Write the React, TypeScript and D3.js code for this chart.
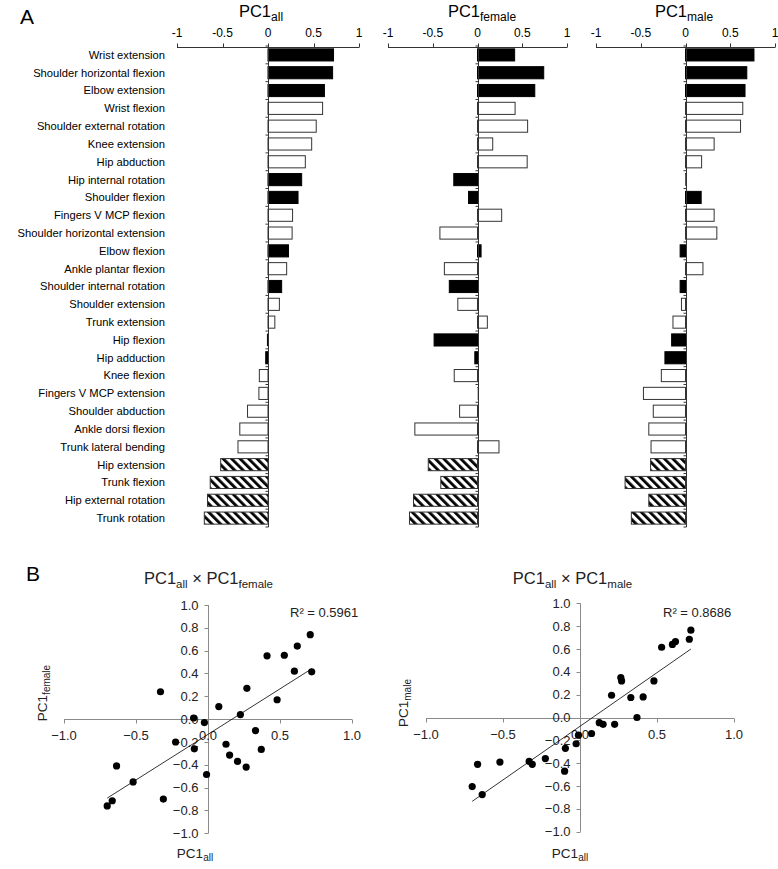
import React from 'react';
import * as d3 from 'd3';

const categories = [
  'Wrist extension', 'Shoulder horizontal flexion', 'Elbow extension', 'Wrist flexion',
  'Shoulder external rotation', 'Knee extension', 'Hip abduction', 'Hip internal rotation',
  'Shoulder flexion', 'Fingers V MCP flexion', 'Shoulder horizontal extension', 'Elbow flexion',
  'Ankle plantar flexion', 'Shoulder internal rotation', 'Shoulder extension', 'Trunk extension',
  'Hip flexion', 'Hip adduction', 'Knee flexion', 'Fingers V MCP extension', 'Shoulder abduction',
  'Ankle dorsi flexion', 'Trunk lateral bending', 'Hip extension', 'Trunk flexion',
  'Hip external rotation', 'Trunk rotation',
];

const fillType = [
  'black', 'black', 'black', 'white', 'white', 'white', 'white', 'black', 'black', 'white',
  'white', 'black', 'white', 'black', 'white', 'white', 'black', 'black', 'white', 'white',
  'white', 'white', 'white', 'hatch', 'hatch', 'hatch', 'hatch',
];

const pcAll = [
  0.72, 0.71, 0.62, 0.60, 0.53, 0.48, 0.41, 0.37, 0.33, 0.27, 0.265, 0.225, 0.205, 0.15,
  0.125, 0.075, -0.01, -0.025, -0.095, -0.10, -0.225, -0.31, -0.33, -0.52, -0.635, -0.665, -0.70,
];

const pcFemale = [
  0.415, 0.74, 0.64, 0.42, 0.56, 0.17, 0.555, -0.265, -0.10, 0.27, -0.42, 0.04, -0.37, -0.315,
  -0.22, 0.11, -0.485, -0.03, -0.26, 0.01, -0.20, -0.70, 0.24, -0.55, -0.41, -0.715, -0.76,
];

const pcMale = [
  0.765, 0.685, 0.665, 0.64, 0.615, 0.32, 0.18, 0.0, 0.175, 0.32, 0.35, -0.06, 0.195, -0.06,
  -0.045, -0.14, -0.155, -0.23, -0.27, -0.47, -0.36, -0.41, -0.385, -0.39, -0.675, -0.41, -0.605,
];

const barTicks = [-1, -0.5, 0, 0.5, 1];
const barTickLabels = ['-1', '-0.5', '0', '0.5', '1'];
const scatterXTicks = [-1, -0.5, 0, 0.5, 1];
const scatterYTicks = [1, 0.8, 0.6, 0.4, 0.2, 0, -0.2, -0.4, -0.6, -0.8, -1];

const FONT = "'Liberation Sans', Arial, Helvetica, sans-serif";

function BarPanel({ values, x0, x1, title, sub, titleX, showLabels }) {
  const xs = d3.scaleLinear().domain([-1, 1]).range([x0, x1]);
  const ys = d3.scaleBand().domain(categories).range([46, 527]).paddingInner(0.32).paddingOuter(0.16);
  const axisY = 47.5;
  const zx = Math.round(xs(0)) + 0.5;
  const step = ys.step();
  const bStart = 46;
  return (
    <g>
      <text x={titleX} y={17} textAnchor="middle" fontSize={16.5} fill="#000">
        <tspan>PC1</tspan>
        <tspan fontSize={12} dy={4}>{sub}</tspan>
      </text>
      <line x1={xs(-1)} x2={xs(1)} y1={axisY} y2={axisY} stroke="#333" strokeWidth={1} />
      {barTicks.map((t, i) => (
        <g key={i}>
          <line x1={Math.round(xs(t)) + 0.5} x2={Math.round(xs(t)) + 0.5} y1={axisY} y2={axisY - 4} stroke="#333" />
          <text x={xs(t)} y={37} textAnchor="middle" fontSize={12} fill="#000">{barTickLabels[i]}</text>
        </g>
      ))}
      {showLabels && categories.map((c, i) => (
        <text key={c} x={165} y={ys(c) + ys.bandwidth() / 2} dy="0.35em" textAnchor="end" fontSize={11.2} fill="#000">{c}</text>
      ))}
      {categories.map((c, i) => {
        const v = values[i];
        const xa = Math.min(xs(0), xs(v));
        const w = Math.abs(xs(v) - xs(0));
        const t = fillType[i];
        const fill = t === 'black' ? '#000' : t === 'white' ? '#fff' : 'url(#hatch)';
        const stroke = t === 'black' ? '#000' : '#333';
        return (
          <rect key={c} x={xa} y={ys(c)} width={Math.max(w, 0.8)} height={ys.bandwidth()} fill={fill} stroke={stroke} strokeWidth={w < 1 ? 0.3 : 1} />
        );
      })}
      <line x1={zx} x2={zx} y1={axisY} y2={527} stroke="#333" strokeWidth={1} />
      {d3.range(categories.length + 1).map((i) => (
        <line key={i} x1={zx - 3} x2={zx} y1={bStart + i * step} y2={bStart + i * step} stroke="#333" strokeWidth={1} />
      ))}
    </g>
  );
}

function fitLine(xv, yv) {
  const mx = d3.mean(xv), my = d3.mean(yv);
  let sxy = 0, sxx = 0;
  xv.forEach((x, i) => { sxy += (x - mx) * (yv[i] - my); sxx += (x - mx) * (x - mx); });
  const b = sxy / sxx;
  const a = my - b * mx;
  return { a, b };
}

function Scatter({ yvals, xr, yr, title, sub, titleX, r2, r2x, ylabX, ylabY, xlabX }) {
  const xs = d3.scaleLinear().domain([-1, 1]).range(xr);
  const ys = d3.scaleLinear().domain([-1, 1]).range(yr);
  const ax = Math.round(xs(0)) + 0.5;
  const ay = Math.round(ys(0)) + 0.5;
  const { a, b } = fitLine(pcAll, yvals);
  const [mn, mxv] = d3.extent(pcAll);
  const axisCol = '#8a8a8a';
  const txt = '#222';
  return (
    <g fontFamily={FONT}>
      <text x={titleX} y={584} textAnchor="middle" fontSize={16.5} fill={txt}>
        <tspan>PC1</tspan>
        <tspan fontSize={11.5} dy={4}>all</tspan>
        <tspan dy={-4}> × PC1</tspan>
        <tspan fontSize={11.5} dy={4}>{sub}</tspan>
      </text>
      <line x1={xs(-1)} x2={xs(1)} y1={ay} y2={ay} stroke={axisCol} />
      <line x1={ax} x2={ax} y1={ys(1)} y2={ys(-1)} stroke={axisCol} />
      {scatterXTicks.map((t) => (
        <g key={t}>
          <line x1={Math.round(xs(t)) + 0.5} x2={Math.round(xs(t)) + 0.5} y1={ay} y2={ay + 4} stroke={axisCol} />
          <text x={xs(t)} y={ay + 20} textAnchor="middle" fontSize={13} fill={txt}>{d3.format('.1f')(t)}</text>
        </g>
      ))}
      {scatterYTicks.map((t) => (
        <g key={t}>
          <line x1={ax - 4} x2={ax} y1={Math.round(ys(t)) + 0.5} y2={Math.round(ys(t)) + 0.5} stroke={axisCol} />
          <text x={ax - 10} y={ys(t)} dy="0.35em" textAnchor="end" fontSize={13} fill={txt}>{d3.format('.1f')(t)}</text>
        </g>
      ))}
      <line x1={xs(mn)} x2={xs(mxv)} y1={ys(a + b * mn)} y2={ys(a + b * mxv)} stroke="#000" strokeWidth={0.8} />
      {pcAll.map((x, i) => (
        <circle key={i} cx={xs(x)} cy={ys(yvals[i])} r={3.6} fill="#000" />
      ))}
      <text x={r2x} y={617} fontSize={13} fill={txt}>{r2}</text>
      <text transform={`translate(${ylabX},${ylabY}) rotate(-90)`} textAnchor="middle" dy="0.35em" fontSize={13.5} fill={txt}>
        <tspan>PC1</tspan>
        <tspan fontSize={10} dy={3}>{sub}</tspan>
      </text>
      <text x={xlabX} y={858} textAnchor="middle" fontSize={13.5} fill={txt}>
        <tspan>PC1</tspan>
        <tspan fontSize={10} dy={3}>all</tspan>
      </text>
    </g>
  );
}

export default function App() {
  return (
    <svg width={778} height={869} style={{ position: 'absolute', left: 0, top: 0, background: '#fff' }} fontFamily={FONT}>
      <defs>
        <pattern id="hatch" patternUnits="userSpaceOnUse" width={6} height={6} patternTransform="rotate(-45)">
          <rect x={0} y={0} width={6} height={6} fill="#fff" />
          <rect x={0} y={0} width={2.8} height={6} fill="#000" />
        </pattern>
      </defs>
      <rect x={0} y={0} width={778} height={869} fill="#fff" />
      <text x={20} y={24} fontSize={21} fill="#000">A</text>
      <text x={26} y={581} fontSize={21} fill="#000">B</text>
      <BarPanel values={pcAll} x0={177} x1={359} sub="all" titleX={261} showLabels={true} />
      <BarPanel values={pcFemale} x0={388} x1={567} sub="female" titleX={482} showLabels={false} />
      <BarPanel values={pcMale} x0={596} x1={775} sub="male" titleX={684} showLabels={false} />
      <Scatter yvals={pcFemale} xr={[64, 352]} yr={[833.3, 605]} sub="female" titleX={208.5} r2="R² = 0.5961" r2x={290} ylabX={42} ylabY={693} xlabX={195} />
      <Scatter yvals={pcMale} xr={[426, 734]} yr={[831.7, 603.3]} sub="male" titleX={572.5} r2="R² = 0.8686" r2x={663} ylabX={403} ylabY={703} xlabX={570} />
    </svg>
  );
}
